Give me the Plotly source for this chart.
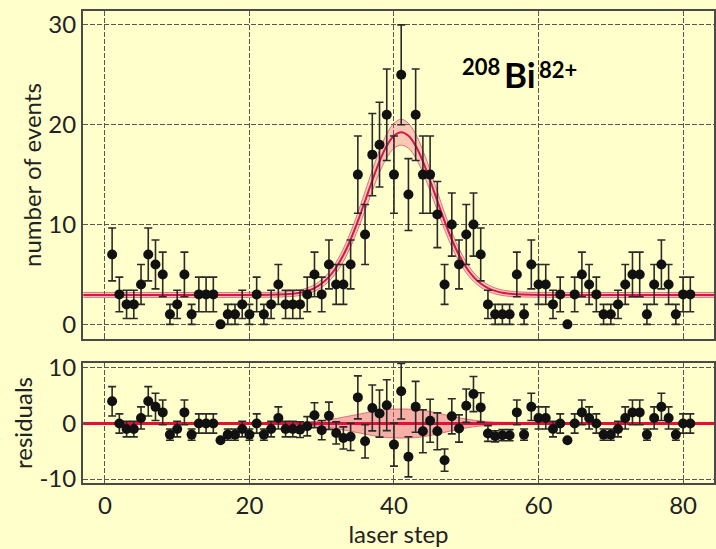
import numpy as np
import plotly.graph_objects as go

# ---------------- data ----------------
steps = list(range(1, 82))
counts = [7, 3, 2, 2, 4, 7, 6, 5, 1, 2, 5, 1, 3, 3, 3, 0, 1, 1, 2, 1,
          3, 1, 2, 4, 2, 2, 2, 3, 5, 3, 6, 4, 4, 6, 15, 9, 17, 18, 21, 15,
          25, 13, 21, 15, 15, 11, 4, 10, 6, 9, 10, 7, 2, 1, 1, 1, 5, 1, 6, 4,
          4, 2, 3, 0, 3, 5, 4, 3, 1, 1, 2, 4, 5, 5, 1, 4, 6, 4, 1, 3, 3]
residuals = [4.0, 0.0, -1.0, -1.0, 1.0, 4.0, 3.0, 2.0, -2.0, -1.0, 2.0, -2.0, 0.0, 0.0, 0.0,
             -3.0, -2.0, -2.0, -1.0, -2.0, 0.0, -2.0, -1.0, 1.0, -1.0, -1.0, -1.1, -0.5, 1.5, -1.2,
             1.4, -1.7, -2.6, -2.4, 4.7, -3.2, 2.8, 1.8, 3.3, -3.8, 5.8, -6.0, 3.0, -1.4, 0.5,
             -1.4, -6.6, 1.3, -0.9, 3.2, 5.3, 2.9, -1.8, -2.3, -2.1, -2.1, 2.0, -2.0, 3.0, 1.0,
             1.0, -1.0, 0.0, -3.0, 0.0, 2.0, 1.0, 0.0, -2.0, -2.0, -1.0, 1.0, 2.0, 2.0, -2.0,
             1.0, 3.0, 1.0, -2.0, 0.0, 0.0]

# fitted line shape (top panel) and its uncertainty half-width
fit_x = [-3, 20, 24, 26, 27, 28, 29, 30, 31, 32, 33, 34, 35, 36, 37, 38, 39, 40, 41,
         42, 43, 44, 45, 46, 47, 48, 49, 50, 51, 52, 53, 54, 55, 56, 58, 62, 84.5]
fit_y = [2.95, 2.95, 2.98, 3.07, 3.17, 3.35, 3.64, 4.09, 4.76, 5.70, 6.94, 8.50, 10.34,
         12.36, 14.41, 16.32, 17.88, 18.89, 19.25, 18.89, 17.88, 16.32, 14.41, 12.36,
         10.34, 8.50, 6.94, 5.70, 4.76, 4.09, 3.64, 3.35, 3.17, 3.07, 2.98, 2.95, 2.95]
fit_hw = [0.25, 0.25, 0.25, 0.27, 0.28, 0.3, 0.33, 0.38, 0.45, 0.55, 0.65, 0.75, 0.85,
          0.95, 1.05, 1.12, 1.2, 1.25, 1.3, 1.25, 1.2, 1.12, 1.05, 0.95, 0.85, 0.75,
          0.65, 0.55, 0.45, 0.38, 0.33, 0.3, 0.28, 0.27, 0.25, 0.25, 0.25]

# residual-panel band
res_band_x = [-3, 26, 28, 30, 32, 34, 36, 38, 40, 42, 44, 46, 48, 50, 52, 54, 56, 84.5]
res_band_hw = [0.2, 0.2, 0.3, 0.5, 0.9, 1.4, 1.9, 2.4, 2.6, 2.6, 2.4, 1.9, 1.3, 0.8, 0.45, 0.25, 0.2, 0.2]

x_ticks = [0, 20, 40, 60, 80]
y_ticks_top = [0, 10, 20, 30]
y_ticks_res = [-10, 0, 10]
y_ticktext_res = ["-10", "0", "10"]

# ---------------- styling ----------------
BG = "#FFFFCC"
FONT = "Lato"
TXT = "#222222"
RED = "#D8164A"
FILL = "rgba(236,90,130,0.33)"
EDGE = "rgba(205,40,95,0.6)"

err = np.sqrt(np.array(counts, dtype=float))
up = [y + h for y, h in zip(fit_y, fit_hw)]
lo = [y - h for y, h in zip(fit_y, fit_hw)]
rup = [h for h in res_band_hw]
rlo = [-h for h in res_band_hw]

fig = go.Figure()

# top band
fig.add_trace(go.Scatter(x=fit_x, y=lo, mode="lines", line=dict(color=EDGE, width=1, shape="spline"),
                         xaxis="x", yaxis="y", showlegend=False, hoverinfo="skip"))
fig.add_trace(go.Scatter(x=fit_x, y=up, mode="lines", line=dict(color=EDGE, width=1, shape="spline"),
                         fill="tonexty", fillcolor=FILL, xaxis="x", yaxis="y",
                         showlegend=False, hoverinfo="skip"))
fig.add_trace(go.Scatter(x=fit_x, y=fit_y, mode="lines", line=dict(color=RED, width=2, shape="spline"),
                         xaxis="x", yaxis="y", showlegend=False))

# residual band
fig.add_trace(go.Scatter(x=res_band_x, y=rlo, mode="lines", line=dict(color=EDGE, width=1, shape="spline"),
                         xaxis="x2", yaxis="y2", showlegend=False, hoverinfo="skip"))
fig.add_trace(go.Scatter(x=res_band_x, y=rup, mode="lines", line=dict(color=EDGE, width=1, shape="spline"),
                         fill="tonexty", fillcolor="rgba(236,80,120,0.45)", xaxis="x2", yaxis="y2",
                         showlegend=False, hoverinfo="skip"))
fig.add_trace(go.Scatter(x=[res_band_x[0], res_band_x[-1]], y=[0, 0], mode="lines",
                         line=dict(color="#E0103A", width=3), xaxis="x2", yaxis="y2", showlegend=False))

# data points
marker = dict(color="#111111", size=10)
ebar = dict(type="data", array=err, visible=True, color="#2a2a2a", thickness=1.6, width=4)
fig.add_trace(go.Scatter(x=steps, y=counts, mode="markers", marker=marker, error_y=ebar,
                         xaxis="x", yaxis="y", showlegend=False))
fig.add_trace(go.Scatter(x=steps, y=residuals, mode="markers", marker=marker, error_y=ebar,
                         xaxis="x2", yaxis="y2", showlegend=False))

axis_common = dict(showline=True, mirror=True, linecolor="#4a4a4a", linewidth=2,
                   showgrid=True, gridcolor="#555555", gridwidth=1, griddash="5px,2px",
                   zeroline=False, ticks="inside", ticklen=5, tickcolor="#555555",
                   tickfont=dict(family=FONT, size=24, color=TXT))

fig.update_layout(
    width=716, height=549,
    margin=dict(l=83, r=0, t=7, b=66),
    paper_bgcolor=BG, plot_bgcolor=BG,
    font=dict(family=FONT, color=TXT),
    xaxis=dict(domain=[0, 1], anchor="y", range=[-3.03, 84.28], tickvals=x_ticks,
               showticklabels=False, **axis_common),
    yaxis=dict(domain=[0.3046, 1], anchor="x", range=[-1.49, 31.39], tickvals=y_ticks_top,
               title=dict(text="number of events", font=dict(family=FONT, size=24, color=TXT), standoff=0),
               **axis_common),
    xaxis2=dict(domain=[0, 1], anchor="y2", range=[-3.03, 84.28], tickvals=x_ticks, matches="x",
                title=dict(text="laser step", font=dict(family=FONT, size=24, color=TXT), standoff=2),
                **axis_common),
    yaxis2=dict(domain=[0, 0.2542], anchor="x2", range=[-10.71, 10.89], tickvals=y_ticks_res,
                ticktext=y_ticktext_res,
                title=dict(text="residuals", font=dict(family=FONT, size=24, color=TXT), standoff=0),
                **axis_common),
)

# label  208Bi82+
fig.add_annotation(x=55.0, y=25.8, xref="x", yref="y", text="<b>208</b>", showarrow=False,
                   xanchor="right", yanchor="middle", font=dict(family=FONT, size=22, color="#000"))
fig.add_annotation(x=54.9, y=25.1, xref="x", yref="y", text="<b>Bi</b>", showarrow=False,
                   xanchor="left", yanchor="middle", font=dict(family=FONT, size=35, color="#000"))
fig.add_annotation(x=59.8, y=25.5, xref="x", yref="y", text="<b>82+</b>", showarrow=False,
                   xanchor="left", yanchor="middle", font=dict(family=FONT, size=22, color="#000"))

fig.write_html("out.html")
